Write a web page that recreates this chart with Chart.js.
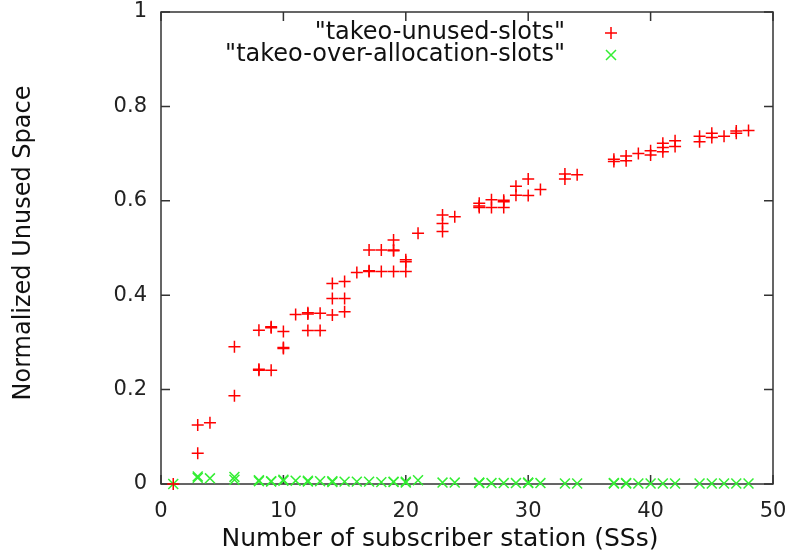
<!DOCTYPE html>
<html>
<head>
<meta charset="utf-8">
<script src="https://cdn.jsdelivr.net/npm/chart.js@4"></script>
<style>
  body { margin: 0; background: #fff; }
  #wrap { width: 789px; height: 554px; position: relative; }
</style>
</head>
<body>
<div id="wrap"><canvas id="chart"></canvas></div>
<script>
// series 1: "takeo-unused-slots" (number of SSs, normalized unused space)
const unusedX = [1, 3, 3, 4, 6, 6, 8, 8, 8, 9, 9, 9, 10, 10, 10, 11, 12, 12, 12, 13, 13,
  14, 14, 14, 15, 15, 15, 16, 17, 17, 17, 18, 18, 19, 19, 19, 19, 20, 20, 20, 21,
  23, 23, 23, 24, 26, 26, 26, 27, 27, 28, 28, 28, 29, 29, 30, 30, 31, 33, 33, 34,
  37, 37, 38, 38, 39, 40, 40, 41, 41, 41, 42, 42, 44, 44, 45, 45, 46, 47, 47, 48];
const unusedY = [0, 0.065, 0.125, 0.13, 0.187, 0.291, 0.241, 0.243, 0.326, 0.241, 0.331, 0.333,
  0.287, 0.289, 0.323, 0.359, 0.325, 0.36, 0.363, 0.325, 0.362,
  0.358, 0.393, 0.425, 0.365, 0.393, 0.429, 0.448, 0.45, 0.452, 0.496, 0.45, 0.496,
  0.45, 0.494, 0.496, 0.517, 0.45, 0.471, 0.475, 0.531,
  0.535, 0.552, 0.57, 0.566, 0.586, 0.589, 0.595, 0.586, 0.602, 0.586, 0.598, 0.601,
  0.612, 0.631, 0.611, 0.646, 0.624, 0.646, 0.657, 0.655,
  0.683, 0.688, 0.685, 0.695, 0.7, 0.697, 0.706, 0.704, 0.713, 0.722, 0.715, 0.727,
  0.725, 0.737, 0.734, 0.743, 0.737, 0.743, 0.748, 0.749];

// series 2: "takeo-over-allocation-slots"
const overX = [1, 3, 3, 4, 6, 6, 8, 8, 9, 9, 10, 10, 11, 12, 12, 13, 14, 14, 15, 16, 17, 18,
  19, 19, 20, 20, 21, 23, 24, 26, 26, 27, 28, 29, 30, 30, 31, 33, 34,
  37, 37, 38, 38, 39, 40, 41, 42, 44, 45, 46, 47, 48];
const overY = [0, 0.016, 0.013, 0.012, 0.015, 0.009, 0.008, 0.006, 0.006, 0.005, 0.009, 0.007,
  0.007, 0.007, 0.005, 0.006, 0.006, 0.004, 0.005, 0.005, 0.005, 0.004,
  0.005, 0.004, 0.005, 0.003, 0.008, 0.003, 0.003, 0.003, 0.002, 0.002, 0.002, 0.002,
  0.003, 0.002, 0.002, 0.001, 0.001,
  0.001, 0.002, 0.002, 0.001, 0.001, 0.001, 0.001, 0.001, 0.001, 0.001, 0.001, 0.001, 0.001];

const seriesNames = ['"takeo-unused-slots"', '"takeo-over-allocation-slots"'];
const xTitle = 'Number of subscriber station (SSs)';
const yTitle = 'Normalized Unused Space';

const RED = '#ff0000';
const GREEN = '#33ee33';
const FONT = '"DejaVu Sans", sans-serif';

function toPoints(xs, ys) {
  return xs.map((x, i) => ({ x: x, y: ys[i] }));
}

// gnuplot-style frame with inward ticks, legend and axis titles
const gnuplotFrame = {
  id: 'gnuplotFrame',
  beforeDatasetsDraw(chart) {
    const ctx = chart.ctx;
    const a = chart.chartArea;
    const xs = chart.scales.x, ys = chart.scales.y;
    ctx.save();
    ctx.strokeStyle = '#333';
    ctx.lineWidth = 1.5;
    ctx.strokeRect(a.left, a.top, a.right - a.left, a.bottom - a.top);
    ctx.beginPath();
    xs.ticks.forEach(t => {
      const px = xs.getPixelForValue(t.value);
      ctx.moveTo(px, a.bottom); ctx.lineTo(px, a.bottom - 9);
      ctx.moveTo(px, a.top); ctx.lineTo(px, a.top + 9);
    });
    ys.ticks.forEach(t => {
      const py = ys.getPixelForValue(t.value);
      ctx.moveTo(a.left, py); ctx.lineTo(a.left + 9, py);
      ctx.moveTo(a.right, py); ctx.lineTo(a.right - 9, py);
    });
    ctx.stroke();
    ctx.restore();
  },
  afterDraw(chart) {
    const ctx = chart.ctx;
    const ds = chart.data.datasets;
    ctx.save();
    ctx.fillStyle = '#111';
    // legend
    ctx.font = '24px ' + FONT;
    ctx.textAlign = 'right';
    ctx.textBaseline = 'middle';
    ctx.fillText(seriesNames[0], 565, 33);
    ctx.fillText(seriesNames[1], 565, 55);
    ctx.lineWidth = 1.5;
    ctx.strokeStyle = ds[0].borderColor;
    ctx.beginPath(); ctx.moveTo(605, 33); ctx.lineTo(617, 33); ctx.moveTo(611, 27); ctx.lineTo(611, 39); ctx.stroke();
    ctx.strokeStyle = ds[1].borderColor;
    ctx.beginPath(); ctx.moveTo(606, 50); ctx.lineTo(616, 60); ctx.moveTo(616, 50); ctx.lineTo(606, 60); ctx.stroke();
    // axis titles
    ctx.font = '25px ' + FONT;
    ctx.textAlign = 'center';
    ctx.fillText(xTitle, 440, 539);
    ctx.translate(24, 243);
    ctx.rotate(-Math.PI / 2);
    ctx.font = '24px ' + FONT;
    ctx.fillText(yTitle, 0, 0);
    ctx.restore();
  }
};

const ctx = document.getElementById('chart').getContext('2d');
window.myChart = new Chart(ctx, {
  type: 'scatter',
  data: {
    datasets: [{
      label: seriesNames[0],
      data: toPoints(unusedX, unusedY),
      pointStyle: 'cross',
      pointRadius: 6,
      pointBorderWidth: 1.5,
      borderColor: RED,
      backgroundColor: RED,
      clip: false
    }, {
      label: seriesNames[1],
      data: toPoints(overX, overY),
      pointStyle: 'crossRot',
      pointRadius: 7,
      pointBorderWidth: 1.5,
      borderColor: GREEN,
      backgroundColor: GREEN,
      clip: false
    }]
  },
  options: {
    responsive: true,
    maintainAspectRatio: false,
    animation: false,
    layout: { padding: { top: 12, right: 16, left: 0, bottom: 0 } },
    plugins: {
      legend: { display: false },
      tooltip: { enabled: false }
    },
    scales: {
      x: {
        type: 'linear',
        min: 0, max: 50,
        ticks: { stepSize: 10, color: '#222', font: { family: FONT, size: 21 }, padding: 7, maxRotation: 0 },
        grid: { display: false },
        border: { display: false },
        afterFit: s => { s.height = 70; s.paddingLeft = 0; s.paddingRight = 0; }
      },
      y: {
        min: 0, max: 1,
        ticks: {
          stepSize: 0.2, color: '#222', font: { family: FONT, size: 21 }, padding: 6,
          callback: v => String(+v.toFixed(1))
        },
        grid: { display: false },
        border: { display: false },
        afterFit: s => { s.width = 161; s.paddingTop = 0; s.paddingBottom = 0; }
      }
    }
  },
  plugins: [gnuplotFrame]
});
</script>
</body>
</html>
